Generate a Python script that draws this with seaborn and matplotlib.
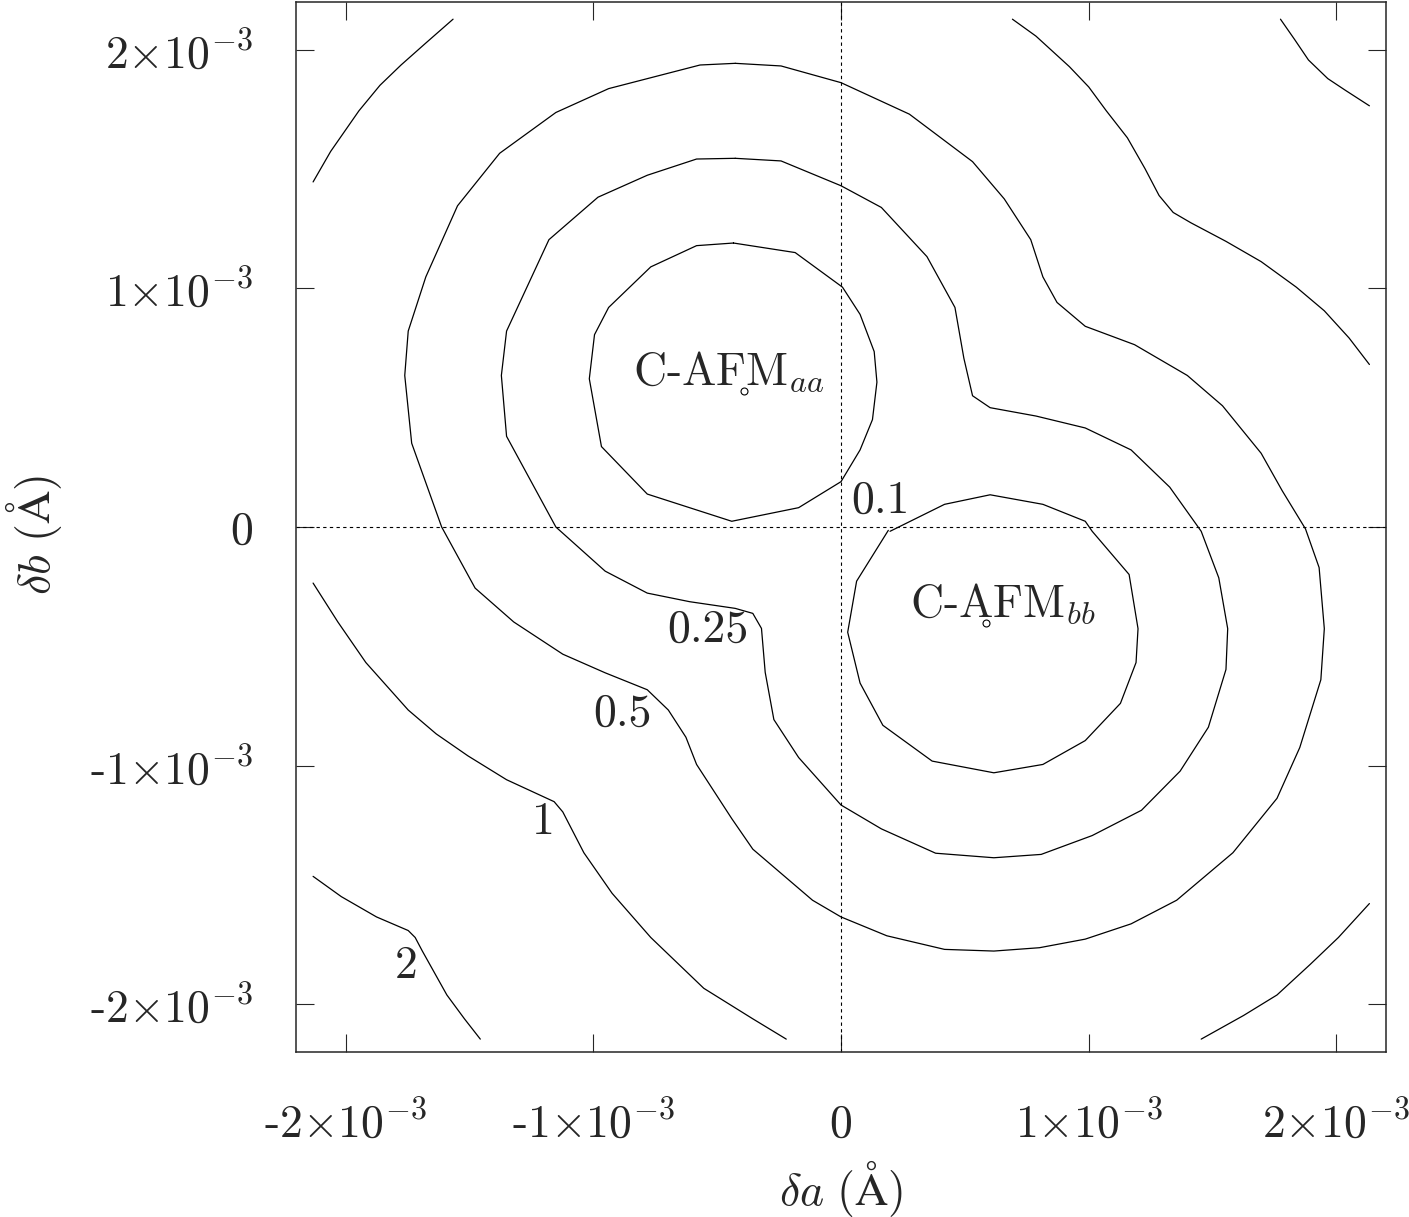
import matplotlib
matplotlib.use("Agg")
import matplotlib.pyplot as plt
import pandas as pd
import seaborn as sns

# contour lines, units of 1e-3 Angstrom
c01_aa_x = [-0.434, -0.185, 0.006, 0.077, 0.134, 0.145, 0.127, 0.077, 0.0,
            -0.171, -0.441, -0.782, -0.967, -1.016, -0.995, -0.938, -0.768, -0.583]
c01_aa_y = [1.190, 1.150, 1.005, 0.891, 0.735, 0.607, 0.450, 0.323, 0.190,
            0.081, 0.024, 0.138, 0.337, 0.621, 0.806, 0.920, 1.090, 1.179]

c01_bb_x = [0.198, 0.418, 0.602, 0.815, 0.986, 1.014, 1.163, 1.199, 1.191, 1.128,
            0.986, 0.815, 0.617, 0.368, 0.169, 0.077, 0.027, 0.063, 0.191]
c01_bb_y = [-0.018, 0.095, 0.135, 0.095, 0.024, -0.018, -0.199, -0.426, -0.568, -0.739,
            -0.895, -0.995, -1.030, -0.981, -0.831, -0.654, -0.441, -0.227, -0.014]

c025_x = [-0.427, -0.242, 0.0, 0.163, 0.347, 0.460, 0.496, 0.531, 0.602, 0.787,
          0.986, 1.171, 1.327, 1.454, 1.525, 1.561, 1.554, 1.483, 1.369, 1.213,
          1.014, 0.808, 0.617, 0.382, 0.163, 0.0, -0.171, -0.271, -0.306, -0.321,
          -0.356, -0.427, -0.611, -0.782, -0.952, -1.151, -1.350, -1.371, -1.350,
          -1.179, -0.981, -0.782, -0.583]
c025_y = [1.545, 1.534, 1.430, 1.339, 1.133, 0.920, 0.707, 0.550, 0.500, 0.465,
          0.415, 0.323, 0.167, -0.018, -0.213, -0.426, -0.597, -0.839, -1.023, -1.187,
          -1.293, -1.372, -1.386, -1.367, -1.265, -1.165, -0.966, -0.807, -0.609, -0.425,
          -0.362, -0.341, -0.313, -0.277, -0.185, 0.0, 0.380, 0.635, 0.821,
          1.204, 1.382, 1.474, 1.542]

c05_x = [-0.427, -0.242, 0.0, 0.276, 0.531, 0.659, 0.766, 0.815, 0.872, 0.986,
         1.185, 1.398, 1.540, 1.696, 1.781, 1.875, 1.930, 1.951, 1.937, 1.852,
         1.760, 1.582, 1.355, 1.171, 0.986, 0.801, 0.617, 0.418, 0.185, 0.0,
         -0.115, -0.356, -0.441, -0.583, -0.626, -0.697, -0.782, -0.952, -1.123,
         -1.321, -1.477, -1.612, -1.733, -1.761, -1.747, -1.676, -1.548, -1.378,
         -1.151, -0.938, -0.569]
c05_y = [1.943, 1.932, 1.862, 1.730, 1.531, 1.375, 1.204, 1.048, 0.941, 0.841,
         0.764, 0.635, 0.508, 0.309, 0.152, -0.008, -0.170, -0.426, -0.640, -0.924,
         -1.137, -1.365, -1.564, -1.663, -1.727, -1.763, -1.777, -1.770, -1.713, -1.634,
         -1.564, -1.350, -1.222, -0.995, -0.881, -0.767, -0.682, -0.611, -0.533,
         -0.398, -0.256, 0.0, 0.351, 0.635, 0.821, 1.048, 1.346, 1.566,
         1.737, 1.837, 1.936]

c1_ur_x = [0.692, 0.787, 0.922, 1.000, 1.071, 1.156, 1.227, 1.284, 1.341, 1.412,
           1.554, 1.696, 1.838, 1.951, 2.051, 2.133]
c1_ur_y = [2.128, 2.057, 1.929, 1.844, 1.744, 1.631, 1.502, 1.389, 1.318, 1.275,
           1.197, 1.112, 1.005, 0.906, 0.792, 0.681]

c1_ll_x = [-2.131, -2.031, -1.918, -1.747, -1.634, -1.506, -1.350, -1.158, -1.123,
           -1.038, -0.924, -0.768, -0.554, -0.356, -0.221]
c1_ll_y = [-0.235, -0.398, -0.568, -0.767, -0.867, -0.959, -1.059, -1.151, -1.194,
           -1.365, -1.535, -1.720, -1.933, -2.061, -2.146]

c1_ul_x = [-2.131, -2.060, -1.946, -1.861, -1.776, -1.676, -1.566]
c1_ul_y = [1.446, 1.574, 1.744, 1.851, 1.936, 2.028, 2.128]

c1_lr_x = [2.133, 2.008, 1.894, 1.760, 1.625, 1.454]
c1_lr_y = [-1.578, -1.720, -1.833, -1.961, -2.047, -2.146]

c2_ur_x = [1.774, 1.831, 1.887, 1.965, 2.036, 2.133]
c2_ur_y = [2.128, 2.043, 1.957, 1.879, 1.830, 1.765]

c2_ll_x = [-2.131, -2.017, -1.875, -1.747, -1.719, -1.690, -1.591, -1.520, -1.456]
c2_ll_y = [-1.464, -1.549, -1.634, -1.691, -1.720, -1.777, -1.961, -2.061, -2.146]

# contour level labels
level_text = ["0.1", "0.25", "0.5", "1", "2"]
level_x = [0.158, -0.537, -0.882, -1.202, -1.754]
level_y = [0.060, -0.483, -0.831, -1.286, -1.890]

# minima
min_names = ["C-AFM$_{aa}$", "C-AFM$_{bb}$"]
min_x = [-0.390, 0.585]
min_y = [0.572, -0.402]
name_x = [-0.452, 0.652]
name_y = [0.595, -0.377]

tick_vals = [-2, -1, 0, 1, 2]
x_tick_labels = ["-2$\\times10^{-3}$", "-1$\\times10^{-3}$", "0",
                 "1$\\times10^{-3}$", "2$\\times10^{-3}$"]
y_tick_labels = ["-2$\\times10^{-3}$", "-1$\\times10^{-3}$", "0",
                 "1$\\times10^{-3}$", "2$\\times10^{-3}$"]

sns.set_style("ticks")
plt.rcParams["font.family"] = ["cmr10", "DejaVu Serif"]
plt.rcParams["mathtext.fontset"] = "cm"
plt.rcParams["axes.unicode_minus"] = False

pieces = [
    (c01_aa_x + c01_aa_x[:1], c01_aa_y + c01_aa_y[:1]),
    (c01_bb_x, c01_bb_y),
    (c025_x + c025_x[:1], c025_y + c025_y[:1]),
    (c05_x + c05_x[:1], c05_y + c05_y[:1]),
    (c1_ur_x, c1_ur_y),
    (c1_ll_x, c1_ll_y),
    (c1_ul_x, c1_ul_y),
    (c1_lr_x, c1_lr_y),
    (c2_ur_x, c2_ur_y),
    (c2_ll_x, c2_ll_y),
]
rows = []
for i, (xs, ys) in enumerate(pieces):
    for j, (xv, yv) in enumerate(zip(xs, ys)):
        rows.append({"x": xv, "y": yv, "piece": i, "order": j})
df = pd.DataFrame(rows)

fig = plt.figure(figsize=(14.09, 12.17), dpi=100)
ax = fig.add_axes([296 / 1409, 1 - 1052 / 1217, 1090 / 1409, 1050 / 1217])

ax.axhline(0, color="black", lw=0.8, ls=(0, (3, 3)))
ax.axvline(0, color="black", lw=0.8, ls=(0, (3, 3)))

sns.lineplot(data=df, x="x", y="y", units="piece", estimator=None, sort=False,
             color="black", lw=0.9, ax=ax, legend=False)

ax.plot(min_x, min_y, ls="none", marker="o", ms=5, mfc="none", mec="black", mew=0.8)

for t, xv, yv in zip(level_text, level_x, level_y):
    ax.text(xv, yv, t, fontsize=33, ha="center", va="baseline")
for t, xv, yv in zip(min_names, name_x, name_y):
    ax.text(xv, yv, t, fontsize=33, ha="center", va="baseline")

ax.set_xlim(-2.2, 2.2)
ax.set_ylim(-2.2, 2.2)
ax.set_xticks(tick_vals)
ax.set_yticks(tick_vals)
ax.set_xticklabels(x_tick_labels)
ax.set_yticklabels(y_tick_labels)
ax.tick_params(direction="in", length=13, width=0.8, top=True, right=True,
               labelsize=33)
ax.tick_params(axis="x", pad=61)
ax.tick_params(axis="y", pad=31)
for lbl in ax.get_xticklabels():
    lbl.set_verticalalignment("baseline")
for sp in ax.spines.values():
    sp.set_linewidth(1.1)

ax.set_xlabel("$\\delta a\\ (\\mathrm{\\AA})$", fontsize=33)
ax.set_ylabel("$\\delta b\\ (\\mathrm{\\AA})$", fontsize=33)
ax.xaxis.label.set_verticalalignment("baseline")
ax.xaxis.set_label_coords(0.5, -(1205 - 1052) / 1050)
ax.yaxis.set_label_coords(-(296 - 64) / 1090, 0.492)

fig.savefig("out.png", dpi=100)
